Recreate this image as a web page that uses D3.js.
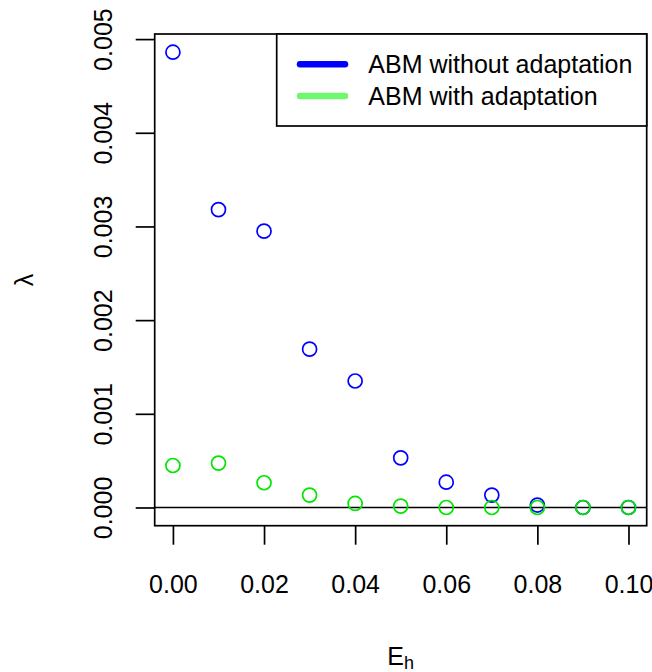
<!DOCTYPE html>
<html>
<head>
<meta charset="utf-8">
<script src="https://cdn.jsdelivr.net/npm/d3@7"></script>
<style>
  html, body { margin: 0; padding: 0; background: #fff; }
  svg { display: block; font-family: "Liberation Sans", Arial, sans-serif; }
</style>
</head>
<body>
<div id="chart"></div>
<script>
// ------------------------------------------------------------
// data
// ------------------------------------------------------------
const EH = [0.00, 0.01, 0.02, 0.03, 0.04, 0.05, 0.06, 0.07, 0.08, 0.09, 0.10];
const LAMBDA_NO_ADAPT = [0.00486, 0.00318, 0.00295, 0.00169, 0.00135, 0.00053, 0.00027, 0.000132, 0.000026, 0, 0];
const LAMBDA_ADAPT = [0.000448, 0.000474, 0.000264, 0.000132, 0.000043, 0.000015, 0, 0, 0, 0, 0];
const X_TICKS = [0.00, 0.02, 0.04, 0.06, 0.08, 0.10];
const Y_TICKS = [0.000, 0.001, 0.002, 0.003, 0.004, 0.005];
const LEGEND_LABELS = ['ABM without adaptation', 'ABM with adaptation'];

const WIDTH = 652;
const HEIGHT = 672;
const BOX = { left: 154.7, right: 646.7, top: 34, bottom: 525.7 };
const FONT = 25;
const BLUE = '#0000ff';
const GREEN = '#00e600';
const LEGEND_COLORS = [BLUE, '#6ef86e'];

// R style 4% range extension
function extend([a, b]) {
    const pad = (b - a) * 0.04;
    return [a - pad, b + pad];
}

const allY = LAMBDA_NO_ADAPT.concat(LAMBDA_ADAPT);
const x = d3.scaleLinear().domain(extend(d3.extent(EH))).range([BOX.left, BOX.right]);
const y = d3.scaleLinear().domain(extend(d3.extent(allY))).range([BOX.bottom, BOX.top]);

const svg = d3.select('#chart')
    .append('svg')
    .attr('width', WIDTH)
    .attr('height', HEIGHT);

// ------------------------------------------------------------
// axes
// ------------------------------------------------------------
const xAxis = svg.append('g')
    .attr('transform', `translate(0,${BOX.bottom})`)
    .call(d3.axisBottom(x).tickValues(X_TICKS).tickSize(19).tickPadding(31).tickFormat(d3.format('.2f')));
xAxis.select('.domain').remove();
xAxis.selectAll('line').attr('stroke', '#000').attr('stroke-width', 1.7);
xAxis.selectAll('text')
    .attr('fill', '#000')
    .style('font-size', FONT + 'px')
    .style('font-family', '"Liberation Sans", Arial, sans-serif');

const yAxis = svg.append('g')
    .attr('transform', `translate(${BOX.left},0)`)
    .call(d3.axisLeft(y).tickValues(Y_TICKS).tickSize(19).tickFormat(d3.format('.3f')));
yAxis.select('.domain').remove();
yAxis.selectAll('line').attr('stroke', '#000').attr('stroke-width', 1.7);
yAxis.selectAll('text')
    .attr('x', null)
    .attr('dy', null)
    .attr('text-anchor', 'middle')
    .attr('transform', `translate(${112 - BOX.left},0) rotate(-90)`)
    .attr('fill', '#000')
    .style('font-size', FONT + 'px')
    .style('font-family', '"Liberation Sans", Arial, sans-serif');

// axis titles
svg.append('text')
    .attr('transform', 'translate(33,280) rotate(-90)')
    .attr('text-anchor', 'middle')
    .style('font-size', FONT + 'px')
    .text('λ');

const xt = svg.append('text')
    .attr('x', (BOX.left + BOX.right) / 2)
    .attr('y', 665)
    .attr('text-anchor', 'middle')
    .style('font-size', FONT + 'px');
xt.append('tspan').text('E');
xt.append('tspan').attr('dy', 4).style('font-size', '18px').text('h');

// ------------------------------------------------------------
// zero line + points
// ------------------------------------------------------------
svg.append('line')
    .attr('x1', BOX.left).attr('x2', BOX.right)
    .attr('y1', y(0)).attr('y2', y(0))
    .attr('stroke', '#000')
    .attr('stroke-width', 1.7);

const series = [
    { values: LAMBDA_NO_ADAPT, color: BLUE },
    { values: LAMBDA_ADAPT, color: GREEN }
];

series.forEach((s) => {
    svg.append('g')
        .selectAll('circle')
        .data(s.values)
        .enter()
        .append('circle')
        .attr('cx', (d, i) => x(EH[i]))
        .attr('cy', (d) => y(d))
        .attr('r', 7)
        .attr('fill', 'none')
        .attr('stroke', s.color)
        .attr('stroke-width', 1.7);
});

// plot box
svg.append('rect')
    .attr('x', BOX.left)
    .attr('y', BOX.top)
    .attr('width', BOX.right - BOX.left)
    .attr('height', BOX.bottom - BOX.top)
    .attr('fill', 'none')
    .attr('stroke', '#000')
    .attr('stroke-width', 1.7);

// ------------------------------------------------------------
// legend (top right)
// ------------------------------------------------------------
const legend = svg.append('g');
legend.append('rect')
    .attr('x', 276.7)
    .attr('y', BOX.top)
    .attr('width', BOX.right - 276.7)
    .attr('height', 92)
    .attr('fill', '#fff')
    .attr('stroke', '#000')
    .attr('stroke-width', 1.7);

const entry = legend.selectAll('.legend-entry')
    .data(LEGEND_LABELS)
    .enter()
    .append('g')
    .attr('class', 'legend-entry')
    .attr('transform', (d, i) => `translate(0,${64.3 + i * 31.7})`);

entry.append('line')
    .attr('x1', 300).attr('x2', 345)
    .attr('stroke', (d, i) => LEGEND_COLORS[i])
    .attr('stroke-width', 6.5)
    .attr('stroke-linecap', 'round');

entry.append('text')
    .attr('x', 368.3)
    .attr('y', 9)
    .style('font-size', FONT + 'px')
    .text((d) => d);
</script>
</body>
</html>
